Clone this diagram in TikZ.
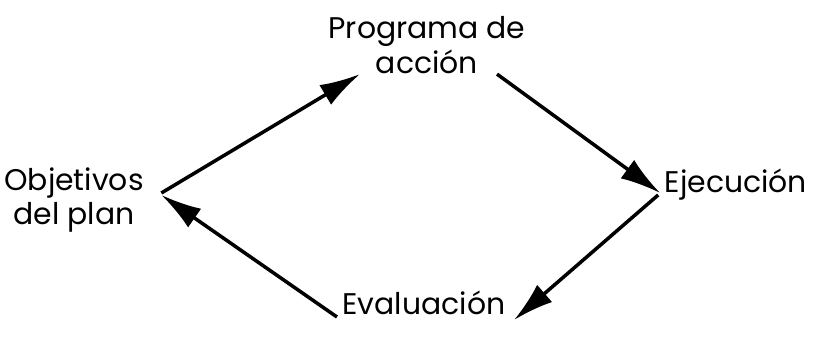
\documentclass[tikz,border=0pt]{standalone}
\usepackage{fontspec}
\setmainfont{Poppins}
\usetikzlibrary{arrows.meta}
\begin{document}
\begin{tikzpicture}[every node/.style={font=\fontsize{8.5}{9.8}\selectfont,align=center,inner sep=0pt},
  flow/.style={line width=1pt,-{Latex[length=11.5pt,width=6.5pt]}}]
% plan cycle: objectives, action programme, execution, evaluation
\useasboundingbox (0,0) rectangle (8.19,3.38);
\node (obj) at (0.74,1.38) {Objetivos\\del plan};
\node (prog) at (4.27,2.93) {Programa de\\acción};
\node (eje) at (7.36,1.53) {Ejecución};
\node (eva) at (4.24,0.35) {Evaluación};
\coordinate (objA) at ([xshift=0.17cm,yshift=0.07cm]obj.east);
\coordinate (objB) at ([xshift=0.17cm,yshift=0.05cm]obj.east);
\coordinate (progA) at ([xshift=-0.67cm,yshift=0cm]prog.south);
\coordinate (progB) at ([xshift=0.7cm,yshift=0cm]prog.south);
\coordinate (ejeA) at ([xshift=-0.04cm,yshift=-0.08cm]eje.west);
\coordinate (ejeB) at ([xshift=-0.06cm,yshift=-0.1cm]eje.west);
\coordinate (evaA) at ([xshift=0.08cm,yshift=-0.17cm]eva.east);
\coordinate (evaB) at ([xshift=-0.05cm,yshift=-0.14cm]eva.west);
\draw[flow] (objA) -- (progA);
\draw[flow] (progB) -- (ejeA);
\draw[flow] (ejeB) -- (evaA);
\draw[flow] (evaB) -- (objB);
\end{tikzpicture}
\end{document}
